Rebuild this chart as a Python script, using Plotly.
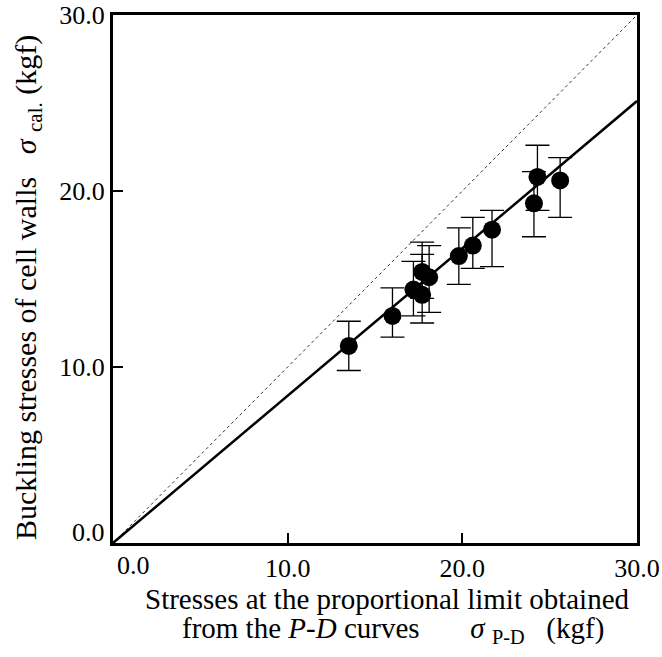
import plotly.graph_objects as go

# Data
x_pd = [13.5, 16.0, 17.2, 17.7, 17.7, 18.1, 19.8, 20.6, 21.7, 24.3, 24.1, 25.6]
y_cal = [11.2, 12.9, 14.4, 14.1, 15.4, 15.1, 16.3, 16.9, 17.8, 20.8, 19.3, 20.6]
err_plus = [1.4, 1.6, 1.6, 2.3, 1.7, 1.8, 1.6, 1.6, 1.1, 1.8, 1.8, 1.3]
err_minus = [1.4, 1.2, 1.5, 1.6, 1.5, 2.0, 1.6, 1.3, 2.1, 1.9, 1.9, 2.1]

fit_x = [0.0, 30.0]
fit_slope = 0.837
ref_x = [0.0, 30.0]

x_tick_vals = [0, 10, 20, 30]
x_tick_text = ["0.0", "10.0", "20.0", "30.0"]
y_tick_vals = [0, 10, 20, 30]
y_tick_text = ["0.0", "10.0", "20.0", "30.0"]

x_title_lines = ["Stresses at the proportional limit obtained",
                 "from the <i>P-D</i> curves" + "&nbsp;" * 7 + "<i>σ</i> <sub>P-D</sub>"
                 + "&nbsp;" * 3 + "(kgf)"]
y_title = ("Buckling stresses of cell walls" + "&nbsp;" * 3 +
           "<i>σ</i> <sub>cal.</sub>" + "&nbsp;" * 1 + "(kgf)")

FONT = "Liberation Serif"
TICK_SIZE = 26
X_TITLE_SIZE = 29
Y_TITLE_SIZE = 30

fig = go.Figure()

# y = x reference (dotted)
fig.add_trace(go.Scatter(x=ref_x, y=ref_x, mode="lines",
                         line=dict(color="#333333", width=1, dash="dot"),
                         showlegend=False, hoverinfo="skip"))
# regression line
fig.add_trace(go.Scatter(x=fit_x, y=[fit_slope * v for v in fit_x], mode="lines",
                         line=dict(color="black", width=2.5),
                         showlegend=False, hoverinfo="skip"))
# data points with error bars
fig.add_trace(go.Scatter(
    x=x_pd, y=y_cal, mode="markers",
    marker=dict(color="black", size=18),
    error_y=dict(type="data", symmetric=False, array=err_plus, arrayminus=err_minus,
                 color="black", thickness=1.3, width=12),
    showlegend=False))

fig.update_xaxes(
    range=[0, 30], tickvals=x_tick_vals[1:], ticktext=x_tick_text[1:],
    ticks="inside", ticklen=10, tickwidth=2, tickcolor="black",
    showline=True, linecolor="black", linewidth=3, mirror=True,
    showgrid=False, zeroline=False, automargin=False,
    tickfont=dict(family=FONT, size=TICK_SIZE, color="black"),
)
fig.update_yaxes(
    range=[0, 30], tickvals=y_tick_vals[1:], ticktext=y_tick_text[1:],
    ticks="inside", ticklen=10, tickwidth=2, tickcolor="black",
    showline=True, linecolor="black", linewidth=3, mirror=True,
    showgrid=False, zeroline=False, automargin=False,
    tickfont=dict(family=FONT, size=TICK_SIZE, color="black"),
)

# the 0.0 labels are offset from the corner in the reference
fig.add_annotation(x=x_tick_vals[0], y=0, xref="x", yref="paper", text=x_tick_text[0],
                   showarrow=False, xanchor="center", yanchor="top", xshift=20, yshift=-6,
                   font=dict(family=FONT, size=TICK_SIZE, color="black"))
fig.add_annotation(x=0, y=y_tick_vals[0], xref="paper", yref="y", text=y_tick_text[0],
                   showarrow=False, xanchor="right", yanchor="middle", xshift=-6, yshift=11,
                   font=dict(family=FONT, size=TICK_SIZE, color="black"))

# axis titles
fig.add_annotation(x=0.057, y=-0.106, xref="paper", yref="paper", text=x_title_lines[0],
                   showarrow=False, xanchor="left", yanchor="middle",
                   font=dict(family=FONT, size=X_TITLE_SIZE, color="black"))
fig.add_annotation(x=0.128, y=-0.164, xref="paper", yref="paper", text=x_title_lines[1],
                   showarrow=False, xanchor="left", yanchor="middle",
                   font=dict(family=FONT, size=X_TITLE_SIZE, color="black"))
fig.add_annotation(x=-0.162, y=0.483, xref="paper", yref="paper", text=y_title,
                   showarrow=False, textangle=-90, xanchor="center", yanchor="middle",
                   font=dict(family=FONT, size=Y_TITLE_SIZE, color="black"))

fig.update_layout(
    width=662, height=657,
    margin=dict(l=113, r=25, t=15, b=114),
    plot_bgcolor="white", paper_bgcolor="white",
)

fig.write_html("out.html", config={"displayModeBar": False},
               post_script="document.body.style.margin='0';")
